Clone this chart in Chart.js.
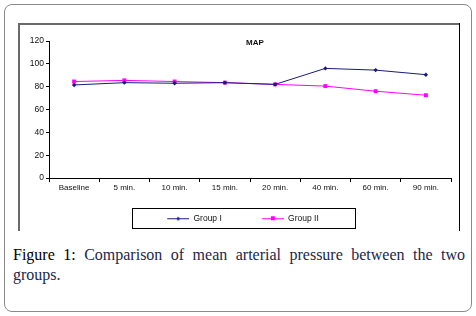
<!DOCTYPE html>
<html>
<head>
<meta charset="utf-8">
<script src="https://cdn.jsdelivr.net/npm/chart.js@4/dist/chart.umd.min.js"></script>
<style>
  html, body { margin: 0; padding: 0; background: #fff; }
  body { width: 476px; height: 316px; position: relative; overflow: hidden; }
  #outer { position: absolute; left: 4px; top: 4px; width: 466px; height: 306px; border: 1px solid #8a8a8a; border-radius: 8px; box-sizing: content-box; }
  .fr { position: absolute; }
  #caption { position: absolute; left: 13px; top: 245px; width: 452px; font-family: "Liberation Serif", "Times New Roman", serif; font-size: 16px; line-height: 20px; color: #22284a; }
  #caption .l1 { text-align: justify; text-align-last: justify; white-space: nowrap; }
  #caption b { font-weight: normal; color: #000; }
  canvas { position: absolute; left: 0; top: 0; }
</style>
</head>
<body>
<div id="outer"></div>
<div class="fr" style="left:18px;top:23px;width:2px;height:208px;background:#6a6a6a;"></div>
<div class="fr" style="left:18px;top:23px;width:442px;height:2px;background:#6a6a6a;"></div>
<div class="fr" style="left:459px;top:23px;width:1px;height:208px;background:#000;"></div>
<div id="caption"><div class="l1"><b>Figure 1:</b> Comparison of mean arterial pressure between the two</div><div>groups.</div></div>
<canvas id="c" width="476" height="316" style="width:476px;height:316px;"></canvas>
<script>
const categories = ['Baseline', '5 min.', '10 min.', '15 min.', '20 min.', '40 min.', '60 min.', '90 min.'];
const groupI = [81.5, 83.5, 83, 83.5, 82, 96, 94.5, 90.5];
const groupII = [84.5, 85.5, 84.5, 83.5, 82, 80.5, 76, 72.5];
const seriesNames = ['Group I', 'Group II'];
const chartTitle = 'MAP';

const navy = '#1a1a7a';
const magenta = '#ff00ff';
const FONT = '"Liberation Sans", Arial, sans-serif';
const LW = 42; // legend symbol image width

function legendImg(color, style) {
  const c = document.createElement('canvas');
  c.width = LW; c.height = 8;
  const g = c.getContext('2d');
  g.strokeStyle = color; g.lineWidth = 1;
  g.beginPath(); g.moveTo(LW - 22, 4.5); g.lineTo(LW, 4.5); g.stroke();
  g.fillStyle = color;
  const cx = LW - 11, cy = 4.5;
  if (style === 'diamond') {
    g.beginPath(); g.moveTo(cx, cy - 2); g.lineTo(cx + 2, cy); g.lineTo(cx, cy + 2); g.lineTo(cx - 2, cy); g.closePath(); g.fill();
  } else {
    g.fillRect(cx - 2, cy - 2.5, 4, 4);
  }
  return c;
}
const legImgs = [legendImg(navy, 'diamond'), legendImg(magenta, 'square')];

const titlePlugin = {
  id: 'mapTitle',
  afterDraw(chart) {
    const a = chart.chartArea, ctx = chart.ctx;
    ctx.save();
    ctx.font = 'bold 8px ' + FONT;
    ctx.fillStyle = '#111';
    ctx.textAlign = 'center'; ctx.textBaseline = 'middle';
    ctx.fillText(chartTitle, (a.left + a.right) / 2 + 5, a.top + 2);
    ctx.restore();
  }
};
const legendBoxPlugin = {
  id: 'legendBox',
  afterDraw(chart) {
    const hb = chart.legend && chart.legend.legendHitBoxes;
    if (!hb || hb.length < 2) return;
    const ctx = chart.ctx;
    const left = hb[0].left + (LW - 22) - 35;
    const right = hb[1].left + hb[1].width + 36;
    const cy = hb[0].top + 4;
    ctx.save();
    ctx.strokeStyle = '#000'; ctx.lineWidth = 1;
    ctx.strokeRect(Math.round(left) + 0.5, Math.round(cy - 10) + 0.5, Math.round(right - left), 20);
    ctx.restore();
  }
};

new Chart(document.getElementById('c'), {
  type: 'line',
  data: {
    labels: categories,
    datasets: [
      { label: seriesNames[0], data: groupI, borderColor: navy, backgroundColor: navy, borderWidth: 1, pointStyle: 'rectRot', pointRadius: 2.2, pointBorderWidth: 0, tension: 0 },
      { label: seriesNames[1], data: groupII, borderColor: magenta, backgroundColor: magenta, borderWidth: 1, pointStyle: 'rect', pointRadius: 2.8, pointBorderWidth: 0, tension: 0 }
    ]
  },
  options: {
    responsive: false,
    animation: false,
    devicePixelRatio: 1,
    layout: { padding: { left: 15, right: 25, top: 41, bottom: 83.5 } },
    plugins: {
      title: { display: false },
      tooltip: { enabled: false },
      legend: {
        position: 'bottom',
        labels: {
          usePointStyle: true,
          pointStyleWidth: LW,
          padding: 20,
          color: '#111',
          font: { family: FONT, size: 8.5 },
          generateLabels(chart) {
            const items = Chart.defaults.plugins.legend.labels.generateLabels(chart);
            items.forEach((it, i) => { it.pointStyle = legImgs[i]; });
            return items;
          }
        }
      }
    },
    scales: {
      x: {
        offset: true,
        grid: { offset: true, drawOnChartArea: false, drawTicks: true, tickLength: 4, color: '#000' },
        border: { display: true, color: '#000', width: 1 },
        ticks: { color: '#111', font: { family: FONT, size: 8 }, padding: 1, maxRotation: 0, autoSkip: false },
        afterFit(s) { s.height = 16; }
      },
      y: {
        min: 0, max: 120,
        grid: { drawOnChartArea: false, drawTicks: true, tickLength: 3, color: '#000' },
        border: { display: true, color: '#000', width: 1 },
        ticks: { stepSize: 20, color: '#111', font: { family: FONT, size: 8.5 }, padding: 2 },
        afterFit(s) { s.width = 34; }
      }
    }
  },
  plugins: [titlePlugin, legendBoxPlugin]
});
</script>
</body>
</html>
